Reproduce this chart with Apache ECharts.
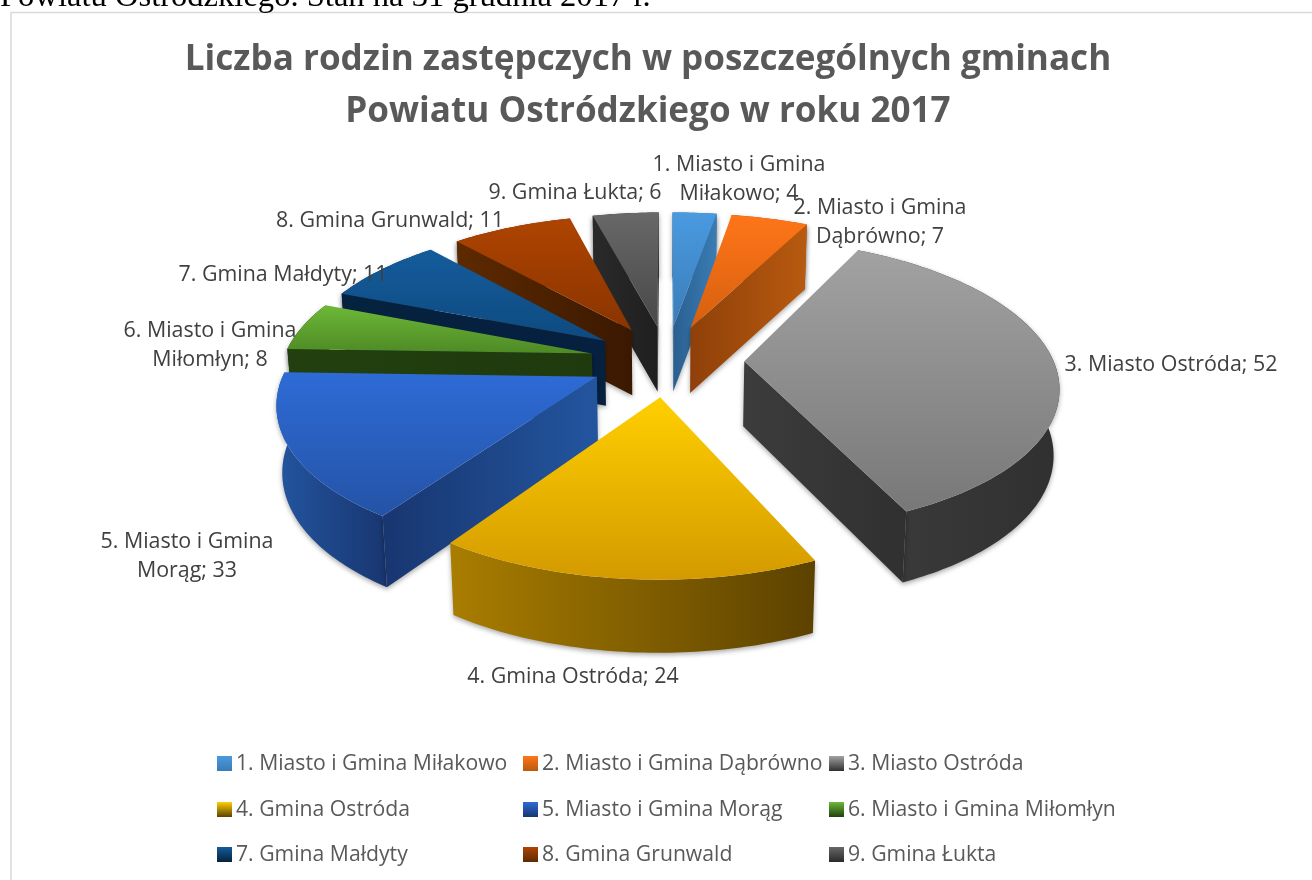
<!DOCTYPE html>
<html>
<head>
<meta charset="utf-8">
<style>
	html, body { margin: 0; padding: 0; background: #fff; }
	#main { width: 1312px; height: 880px; }
</style>
<script src="https://cdn.jsdelivr.net/npm/echarts@6/dist/echarts.min.js"></script>
</head>
<body>
<div id="main"></div>
<script>
var names = ['1. Miasto i Gmina Miłakowo', '2. Miasto i Gmina Dąbrówno', '3. Miasto Ostróda', '4. Gmina Ostróda',
	'5. Miasto i Gmina Morąg', '6. Miasto i Gmina Miłomłyn', '7. Gmina Małdyty', '8. Gmina Grunwald', '9. Gmina Łukta'];
// values printed in the data labels
var labelValues = [4, 7, 52, 24, 33, 8, 11, 11, 6];
// slice sizes: slice 5 is labelled 33 but only spans about 23.5
var sliceValues = [4, 7, 52.5, 24, 23.5, 8, 11, 11, 6];

var topColors = [['#4a9ae0', '#3a7cb8'], ['#ff7518', '#d5600f'], ['#a2a2a2', '#787878'], ['#ffcf00', '#d49a00'], ['#2e6bd6', '#2453a6'],
	['#6eb838', '#4e8a25'], ['#145c9c', '#0e4a80'], ['#ae4401', '#8a3400'], ['#686868', '#484848']];
var sideColors = [['#2a5f90', '#3a7cb4'], ['#8f4009', '#b85a10'], ['#3c3c3c', '#303030'], ['#a97d00', '#5c4200'], ['#23559f', '#183670'],
	['#1f3a0e', '#22400f'], ['#062040', '#05223e'], ['#3a1800', '#5e2a00'], ['#1f1f1f', '#2a2a2a']];

var labelPos = [[739, 179], [880, 222], [1171, 365], [573, 677], [187, 556], [210, 345], [283, 275], [390, 221], [575, 193]];
var legendPos = [[217, 753], [523, 753], [829, 753], [217, 799], [523, 799], [829, 799], [217, 844], [523, 844], [829, 844]];

// view of the tilted disc
var cx = 667, cy = 360.5, radiusX = 309, radiusY = 141.5, perspective = 0.155, explode = 0.25, depth = 65;

var total = 0;
for (var i = 0; i < sliceValues.length; i++) {
	total += sliceValues[i];
}

function project(u, v) {
	var w = 1 + perspective * v;
	return [cx + radiusX * u / w, cy - radiusY * v / w];
}

function lower(u, v) {
	var p = project(u, v);
	return [cx + (p[0] - cx) * 0.985, p[1] + depth * (1 + 0.1 * Math.max(-v, 0))];
}

function sliceShape(start, end) {
	var mid = (start + end) / 2;
	var ax = explode * Math.sin(mid), ay = explode * Math.cos(mid);
	var arc = [], arcLow = [];
	var steps = Math.max(4, Math.ceil((end - start) * 180 / Math.PI));
	for (var s = 0; s <= steps; s++) {
		var t = start + (end - start) * s / steps;
		var u = ax + Math.sin(t), v = ay + Math.cos(t);
		arc.push(project(u, v));
		arcLow.push(lower(u, v));
	}
	return {
		apex: project(ax, ay),
		apexLow: lower(ax, ay),
		arc: arc,
		arcLow: arcLow
	};
}

function vGrad(c) {
	return new echarts.graphic.LinearGradient(0, 0, 0, 1, [{offset: 0, color: c[0]}, {offset: 1, color: c[1]}]);
}

function hGrad(c) {
	return new echarts.graphic.LinearGradient(0, 0, 1, 0, [{offset: 0, color: c[0]}, {offset: 1, color: c[1]}]);
}

// positive when the quad faces the viewer
function facing(a, b, c) {
	return (b[0] - a[0]) * (c[1] - a[1]) - (b[1] - a[1]) * (c[0] - a[0]);
}

function makeRenderItem(index, start, end) {
	return function () {
		var g = sliceShape(start, end);
		var last = g.arc.length - 1;
		var shadow = {shadowBlur: 5, shadowColor: 'rgba(0,0,0,0.35)', shadowOffsetY: 2};
		var children = [];
		var rim = g.arc.concat(g.arcLow.slice().reverse());
		children.push({
			type: 'polygon',
			shape: {points: rim},
			style: Object.assign({fill: hGrad(sideColors[index])}, shadow)
		});
		// cut face along the start edge, then along the end edge
		if (facing(g.apex, g.arc[0], g.apexLow) < 0) {
			children.push({
				type: 'polygon',
				shape: {points: [g.apex, g.arc[0], g.arcLow[0], g.apexLow]},
				style: Object.assign({fill: hGrad([sideColors[index][1], sideColors[index][0]])}, shadow)
			});
		}
		if (facing(g.apex, g.arc[last], g.apexLow) > 0) {
			children.push({
				type: 'polygon',
				shape: {points: [g.apex, g.arc[last], g.arcLow[last], g.apexLow]},
				style: Object.assign({fill: hGrad(sideColors[index])}, shadow)
			});
		}
		children.push({
			type: 'polygon',
			shape: {points: [g.apex].concat(g.arc)},
			style: {fill: vGrad(topColors[index])}
		});
		return {type: 'group', children: children};
	};
}

function labelText(i) {
	var name = names[i].indexOf('Miasto i Gmina') > 0 ? names[i].replace('Gmina ', 'Gmina\n') : names[i];
	return name + '; ' + labelValues[i];
}

var series = [], legends = [], texts = [];
var angle = 0;
for (var j = 0; j < names.length; j++) {
	var span = sliceValues[j] / total * Math.PI * 2;
	var midAngle = angle + span / 2;
	series.push({
		type: 'custom',
		name: names[j],
		coordinateSystem: 'none',
		silent: true,
		// back slices first, front slices on top
		z: Math.round(10 + (1 - Math.cos(midAngle)) * 20),
		itemStyle: {color: vGrad([topColors[j][0], sideColors[j][sideColors[j].length - 1]])},
		renderItem: makeRenderItem(j, angle, angle + span),
		data: [sliceValues[j]]
	});
	legends.push({
		left: legendPos[j][0],
		top: legendPos[j][1],
		padding: 0,
		itemWidth: 15,
		itemHeight: 15,
		itemGap: 0,
		icon: 'rect',
		selectedMode: false,
		data: [names[j]],
		textStyle: {fontFamily: 'Open Sans', fontSize: 21.2, color: '#595959', padding: [0, 0, 0, -1]}
	});
	texts.push({
		type: 'text',
		z: 100,
		x: labelPos[j][0],
		y: labelPos[j][1],
		style: {text: labelText(j), fontFamily: 'Open Sans', fontSize: 21.4, fill: '#404040',
			align: 'center', verticalAlign: 'middle', lineHeight: 29}
	});
	angle += span;
}

// caption of the scanned page above the chart, and the chart frame
texts.push({
	type: 'text',
	z: 100,
	x: 0,
	y: -19,
	style: {text: 'Powiatu Ostródzkiego. Stan na 31 grudnia 2017 r.', fontFamily: 'Liberation Serif', fontSize: 32.6, fill: '#000'}
});
texts.push({
	type: 'polyline',
	z: 1,
	shape: {points: [[11, 880], [11, 12.5], [1312, 12.5]]},
	style: {stroke: '#d9d9d9', lineWidth: 1.5, fill: null}
});

var myChart = echarts.init(document.getElementById('main'), null, {renderer: 'canvas'});
var option = {
	animation: false,
	backgroundColor: '#fff',
	title: {
		text: 'Liczba rodzin zastępczych w poszczególnych gminach\nPowiatu Ostródzkiego w roku 2017',
		left: 643,
		top: 29,
		textAlign: 'center',
		textStyle: {fontFamily: 'Open Sans', fontWeight: 'bold', fontSize: 35.1, color: '#595959', lineHeight: 52}
	},
	legend: legends,
	graphic: {elements: texts},
	series: series
};
myChart.setOption(option);
</script>
</body>
</html>
